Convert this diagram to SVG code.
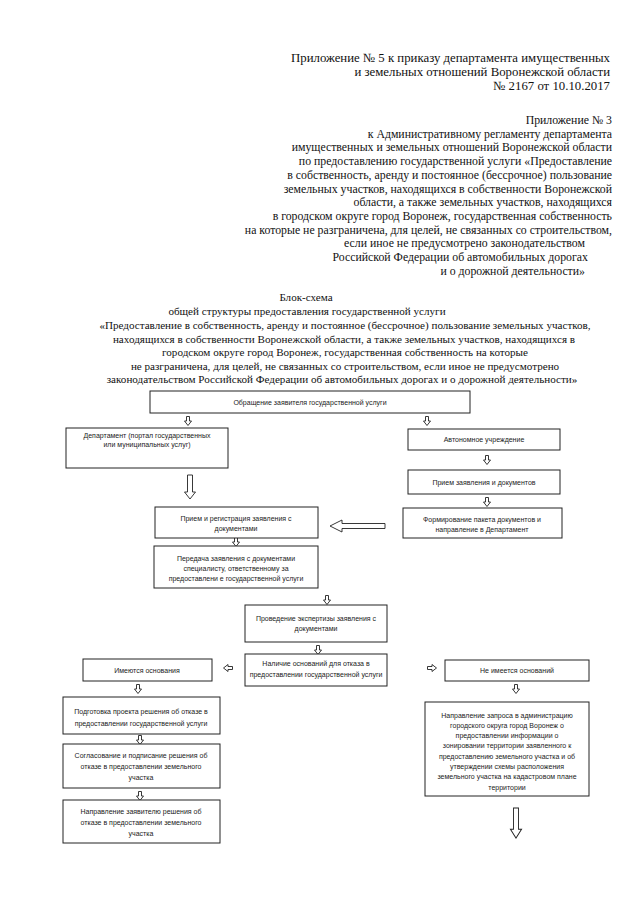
<svg xmlns="http://www.w3.org/2000/svg" xmlns:xlink="http://www.w3.org/1999/xlink" width="640" height="905" viewBox="0 0 640 905">
<style>
.hd{font-family:"Liberation Serif","Times New Roman",serif;font-size:12.8px;fill:#111;text-anchor:end}
.rb{font-family:"Liberation Serif","Times New Roman",serif;font-size:11.8px;fill:#111;text-anchor:end}
.tt{font-family:"Liberation Serif","Times New Roman",serif;font-size:11.1px;fill:#111;text-anchor:middle}
.bx{fill:#fff;stroke:#222;stroke-width:1}
.bt{font-family:"Liberation Sans",Arial,sans-serif;font-size:7px;fill:#222;text-anchor:middle}
.ar{fill:#fff;stroke:#222;stroke-width:0.9;stroke-linejoin:miter}
</style>
<defs>
<path id="sd" d="M-1.5,-4.5 H1.5 V0 H3.5 L0,4.5 L-3.5,0 H-1.5 Z"/>
<path id="bd" d="M-2.5,-12 H2.5 V5 H5.5 L0,12 L-5.5,5 H-2.5 Z"/>
</defs>
<rect width="640" height="905" fill="#fff"/>
<g id="header">
<text class="hd" x="610" y="62">Приложение № 5 к приказу департамента имущественных</text>
<text class="hd" x="610" y="76">и земельных отношений Воронежской области</text>
<text class="hd" x="610" y="90">№ 2167 от 10.10.2017</text>
</g>
<g id="appendix3">
<text class="rb" x="612" y="124">Приложение № 3</text>
<text class="rb" x="612" y="137.7">к Административному регламенту департамента</text>
<text class="rb" x="612" y="151.4">имущественных и земельных отношений Воронежской области</text>
<text class="rb" x="612" y="165.1">по предоставлению государственной услуги «Предоставление</text>
<text class="rb" x="612" y="178.8">в собственность, аренду и постоянное (бессрочное) пользование</text>
<text class="rb" x="612" y="192.5">земельных участков, находящихся в собственности Воронежской</text>
<text class="rb" x="612" y="206.2">области, а также земельных участков, находящихся</text>
<text class="rb" x="612" y="219.9">в городском округе город Воронеж, государственная собственность</text>
<text class="rb" x="612" y="233.6">на которые не разграничена, для целей, не связанных со строительством,</text>
<text class="rb" x="585" y="247.3">если иное не предусмотрено законодательством</text>
<text class="rb" x="588" y="261">Российской Федерации об автомобильных дорогах</text>
<text class="rb" x="585" y="274.7">и о дорожной деятельности»</text>
</g>
<g id="title">
<text class="tt" x="306" y="301">Блок-схема</text>
<text class="tt" x="307" y="315">общей структуры предоставления государственной услуги</text>
<text class="tt" x="345" y="329">«Предоставление в собственность, аренду и постоянное (бессрочное) пользование земельных участков,</text>
<text class="tt" x="344" y="342.5">находящихся в собственности Воронежской области, а также земельных участков, находящихся в</text>
<text class="tt" x="345" y="356">городском округе город Воронеж, государственная собственность на которые</text>
<text class="tt" x="345" y="369.5">не разграничена, для целей, не связанных со строительством, если иное не предусмотрено</text>
<text class="tt" x="342" y="383">законодательством Российской Федерации об автомобильных дорогах и о дорожной деятельности»</text>
</g>
<g id="connectors">
<use href="#sd" class="ar" x="188" y="421"/>
<use href="#sd" class="ar" x="427" y="421"/>
<use href="#sd" class="ar" x="487" y="460"/>
<use href="#bd" class="ar" x="190" y="487"/>
<use href="#sd" class="ar" x="487" y="502"/>
<path class="ar" d="M330,526 L342,520 V523.5 H385 V528.5 H342 V532 Z"/>
<use href="#sd" class="ar" x="236" y="542"/>
<use href="#sd" class="ar" x="327" y="600"/>
<use href="#sd" class="ar" x="318" y="650"/>
<use href="#sd" class="ar" transform="translate(228,668) rotate(90)"/>
<use href="#sd" class="ar" transform="translate(432,668) rotate(-90)"/>
<use href="#sd" class="ar" x="138" y="689"/>
<use href="#sd" class="ar" x="516" y="689"/>
<use href="#sd" class="ar" x="140" y="740"/>
<use href="#sd" class="ar" x="140" y="796"/>
<use href="#bd" class="ar" transform="translate(516,823) scale(1,1.25)"/>
</g>
<g id="n1"><rect class="bx" x="150" y="391" width="320" height="22"/>
<text class="bt" x="310" y="404.5">Обращение заявителя государственной услуги</text></g>
<g id="n2"><rect class="bx" x="66" y="428" width="162" height="40"/>
<text class="bt" x="147" y="437.5">Департамент (портал государственных</text>
<text class="bt" x="147" y="446.5">или муниципальных услуг)</text></g>
<g id="n3"><rect class="bx" x="408" y="429" width="152" height="21"/>
<text class="bt" x="484" y="441.5">Автономное учреждение</text></g>
<g id="n4"><rect class="bx" x="408" y="470" width="152" height="24"/>
<text class="bt" x="484" y="484.5">Прием заявления и документов</text></g>
<g id="n5"><rect class="bx" x="155" y="507" width="163" height="31"/>
<text class="bt" x="236" y="520.5">Прием и регистрация заявления с</text>
<text class="bt" x="236" y="530.5">документами</text></g>
<g id="n6"><rect class="bx" x="403" y="508" width="159" height="30"/>
<text class="bt" x="482" y="521.5">Формирование пакета документов и</text>
<text class="bt" x="482" y="531.5">направление в Департамент</text></g>
<g id="n7"><rect class="bx" x="154" y="546" width="164" height="42"/>
<text class="bt" x="236" y="560.5">Передача заявления с документами</text>
<text class="bt" x="236" y="570.5">специалисту, ответственному за</text>
<text class="bt" x="236" y="580.5">предоставлени е государственной услуги</text></g>
<g id="n8"><rect class="bx" x="245" y="605" width="142" height="37"/>
<text class="bt" x="316" y="620.5">Проведение экспертизы заявления с</text>
<text class="bt" x="316" y="630.5">документами</text></g>
<g id="n9"><rect class="bx" x="245" y="654" width="142" height="32"/>
<text class="bt" x="316" y="665.5">Наличие оснований для отказа в</text>
<text class="bt" x="316" y="676.5">предоставлении государственной услуги</text></g>
<g id="n10"><rect class="bx" x="83" y="659" width="129" height="22"/>
<text class="bt" x="147" y="672.5">Имеются основания</text></g>
<g id="n11"><rect class="bx" x="445" y="660" width="144" height="21"/>
<text class="bt" x="517" y="672.5">Не имеется оснований</text></g>
<g id="n12"><rect class="bx" x="63" y="697" width="157" height="37"/>
<text class="bt" x="141" y="713.5">Подготовка проекта решения об отказе в</text>
<text class="bt" x="141" y="725.5">предоставлении государственной услуги</text></g>
<g id="n13"><rect class="bx" x="63" y="744" width="157" height="44"/>
<text class="bt" x="141" y="757.5">Согласование и подписание решения об</text>
<text class="bt" x="141" y="768.5">отказе в предоставлении земельного</text>
<text class="bt" x="141" y="779.5">участка</text></g>
<g id="n14"><rect class="bx" x="63" y="800" width="157" height="43"/>
<text class="bt" x="141" y="813.5">Направление заявителю решения об</text>
<text class="bt" x="141" y="824.5">отказе в предоставлении земельного</text>
<text class="bt" x="141" y="835.5">участка</text></g>
<g id="n15"><rect class="bx" x="425" y="702" width="164" height="94"/>
<text class="bt" x="507" y="717.5">Направление запроса в администрацию</text>
<text class="bt" x="507" y="727.8">городского округа город Воронеж о</text>
<text class="bt" x="507" y="738.1">предоставлении информации о</text>
<text class="bt" x="507" y="748.4">зонировании территории заявленного к</text>
<text class="bt" x="507" y="758.7">предоставлению земельного участка и об</text>
<text class="bt" x="507" y="769">утверждении схемы расположения</text>
<text class="bt" x="507" y="779.3">земельного участка на кадастровом плане</text>
<text class="bt" x="507" y="789.6">территории</text></g>
</svg>
